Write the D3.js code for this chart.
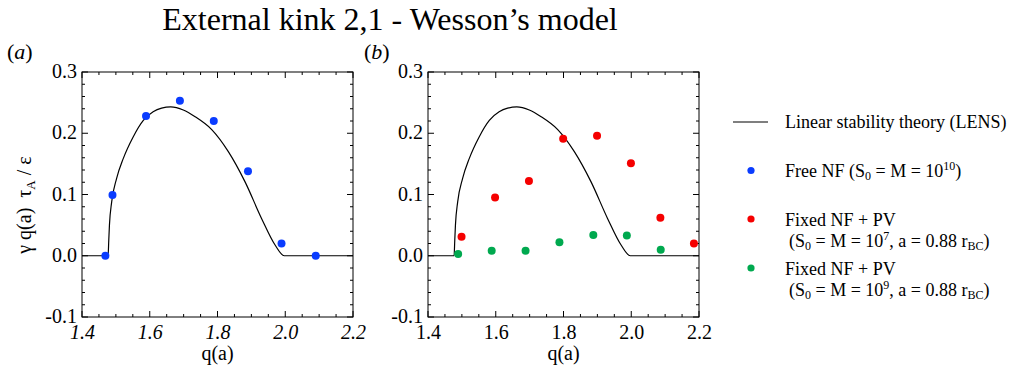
<!DOCTYPE html>
<html>
<head>
<meta charset="utf-8">
<script src="https://cdn.jsdelivr.net/npm/d3@7"></script>
<style>
  html, body { margin: 0; padding: 0; background: #fff; }
  svg { display: block; font-family: "Liberation Serif", "Times New Roman", serif; }
  text { white-space: pre; }
</style>
</head>
<body>
<svg id="chart" width="1013" height="371"></svg>
<script>
// ---------------- data ----------------
const xTicks = [1.4, 1.6, 1.8, 2.0, 2.2];
const xTickLabels = ["1.4", "1.6", "1.8", "2.0", "2.2"];
const yTicks = [-0.1, 0.0, 0.1, 0.2, 0.3];
const yTickLabels = ["-0.1", "0.0", "0.1", "0.2", "0.3"];

// Linear stability theory (LENS) curve
const lensQ = [1.40, 1.477, 1.479, 1.481, 1.4876, 1.502, 1.522, 1.551, 1.581, 1.610, 1.635, 1.662, 1.699, 1.734, 1.783, 1.832, 1.881, 1.930, 1.970, 1.997, 2.20];
const lensG = [0.0, 0.0, 0.025, 0.050, 0.088, 0.126, 0.159, 0.194, 0.221, 0.235, 0.241, 0.243, 0.238, 0.227, 0.206, 0.170, 0.121, 0.061, 0.0175, 0.0, 0.0];

// Free NF (S0 = M = 1e10)
const freeQ = [1.469, 1.490, 1.589, 1.689, 1.789, 1.890, 1.989, 2.090];
const freeG = [0.000, 0.099, 0.228, 0.253, 0.220, 0.138, 0.020, 0.000];

// Fixed NF + PV (S0 = M = 1e7)
const fixed7Q = [1.499, 1.598, 1.698, 1.799, 1.899, 1.999, 2.086, 2.185];
const fixed7G = [0.031, 0.095, 0.122, 0.191, 0.196, 0.151, 0.062, 0.020];

// Fixed NF + PV (S0 = M = 1e9)
const fixed9Q = [1.489, 1.588, 1.688, 1.788, 1.888, 1.987, 2.087];
const fixed9G = [0.003, 0.008, 0.008, 0.022, 0.034, 0.033, 0.010];

const colBlue = "#0a3cff", colRed = "#f50000", colGreen = "#00a94f";

// ---------------- layout ----------------
const svg = d3.select("#chart");
const W = 271, H = 245, plotTop = 72;
const panels = [
  { left: 82, italic: true, tag: "a", tagX: 7, series: [{ q: freeQ, g: freeG, c: colBlue }] },
  { left: 428, italic: false, tag: "b", tagX: 364, series: [{ q: fixed7Q, g: fixed7G, c: colRed }, { q: fixed9Q, g: fixed9G, c: colGreen }] }
];

const x = d3.scaleLinear().domain([1.4, 2.2]).range([0, W]);
const y = d3.scaleLinear().domain([-0.1, 0.3]).range([H, 0]);
const xMinor = d3.range(1.4, 2.2001, 0.05);
const yMinor = d3.range(-0.1, 0.3001, 0.02);

// title
svg.append("text").attr("x", 390).attr("y", 30).attr("text-anchor", "middle")
  .attr("font-size", 32).text("External kink 2,1 - Wesson\u2019s model");

panels.forEach(p => {
  const g = svg.append("g").attr("transform", `translate(${p.left},${plotTop})`);

  // panel tag (a)/(b)
  const t = svg.append("text").attr("x", p.tagX).attr("y", 59).attr("font-size", 22);
  t.append("tspan").text("(");
  t.append("tspan").attr("font-style", "italic").text(p.tag);
  t.append("tspan").text(")");

  // frame
  g.append("rect").attr("width", W).attr("height", H).attr("fill", "none")
    .attr("stroke", "#000").attr("stroke-width", 1);

  // minor + major ticks on all four sides (inward)
  const tk = g.append("g").attr("stroke", "#000").attr("stroke-width", 1);
  xMinor.forEach(v => {
    const isMajor = xTicks.some(m => Math.abs(m - v) < 1e-6);
    const L = isMajor ? 6 : 3;
    tk.append("line").attr("x1", x(v)).attr("x2", x(v)).attr("y1", H).attr("y2", H - L);
    tk.append("line").attr("x1", x(v)).attr("x2", x(v)).attr("y1", 0).attr("y2", L);
  });
  yMinor.forEach(v => {
    const isMajor = yTicks.some(m => Math.abs(m - v) < 1e-6);
    const L = isMajor ? 6 : 3;
    tk.append("line").attr("y1", y(v)).attr("y2", y(v)).attr("x1", 0).attr("x2", L);
    tk.append("line").attr("y1", y(v)).attr("y2", y(v)).attr("x1", W).attr("x2", W - L);
  });

  // axis labels using d3 axes
  const xa = g.append("g").attr("transform", `translate(0,${H})`)
    .call(d3.axisBottom(x).tickValues(xTicks).tickSize(0).tickPadding(7.5)
      .tickFormat((d, i) => xTickLabels[i]));
  xa.select(".domain").remove();
  xa.attr("font-family", null);
  xa.selectAll("text").attr("font-size", 20).attr("font-family", "Liberation Serif")
    .attr("fill", "#000").attr("font-style", p.italic ? "italic" : "normal");

  const ya = g.append("g")
    .call(d3.axisLeft(y).tickValues(yTicks).tickSize(0).tickPadding(5)
      .tickFormat((d, i) => yTickLabels[i]));
  ya.select(".domain").remove();
  ya.attr("font-family", null);
  ya.selectAll("text").attr("font-size", 20).attr("font-family", "Liberation Serif").attr("fill", "#000")
    .attr("dy", "0.28em");

  // x title
  g.append("text").attr("x", W / 2).attr("y", 288).attr("text-anchor", "middle")
    .attr("font-size", 20).text("q(a)");

  // LENS curve
  const pts = lensQ.map((q, i) => [q, lensG[i]]);
  g.append("path").datum(pts)
    .attr("d", d3.line().x(d => x(d[0])).y(d => y(d[1])).curve(d3.curveMonotoneX))
    .attr("fill", "none").attr("stroke", "#000").attr("stroke-width", 1.2);

  // dots
  p.series.forEach(s => {
    g.selectAll(null).data(s.q.map((q, i) => [q, s.g[i]])).enter().append("circle")
      .attr("cx", d => x(d[0])).attr("cy", d => y(d[1])).attr("r", 4).attr("fill", s.c);
  });
});

// y axis title
const yt = svg.append("text").attr("transform", "translate(31,205) rotate(-90)")
  .attr("text-anchor", "middle").attr("font-size", 20);
yt.append("tspan").text("\u03B3 q(a)  \u03C4");
yt.append("tspan").attr("font-size", 13).attr("dy", 4).text("A");
yt.append("tspan").attr("dy", -4).text(" / \u03B5");

// ---------------- legend ----------------
const lg = svg.append("g").attr("font-size", 18);
lg.append("line").attr("x1", 733).attr("x2", 768).attr("y1", 122).attr("y2", 122)
  .attr("stroke", "#000").attr("stroke-width", 1.2);
lg.append("text").attr("x", 785).attr("y", 128).text("Linear stability theory (LENS)");

lg.append("circle").attr("cx", 751).attr("cy", 170.5).attr("r", 3.6).attr("fill", colBlue);
const t1 = lg.append("text").attr("x", 785).attr("y", 176.5);
t1.append("tspan").text("Free NF (S");
t1.append("tspan").attr("font-size", 12).attr("dy", 3).text("0");
t1.append("tspan").attr("dy", -3).text(" = M = 10");
t1.append("tspan").attr("font-size", 12).attr("dy", -7).text("10");
t1.append("tspan").attr("dy", 7).text(")");

function fixedEntry(cy, exp, color) {
  lg.append("circle").attr("cx", 751).attr("cy", cy).attr("r", 3.6).attr("fill", color);
  lg.append("text").attr("x", 785).attr("y", cy + 6.5).text("Fixed NF + PV");
  const tt = lg.append("text").attr("x", 789).attr("y", cy + 28);
  tt.append("tspan").text("(S");
  tt.append("tspan").attr("font-size", 12).attr("dy", 3).text("0");
  tt.append("tspan").attr("dy", -3).text(" = M = 10");
  tt.append("tspan").attr("font-size", 12).attr("dy", -7).text(exp);
  tt.append("tspan").attr("dy", 7).text(", a = 0.88 r");
  tt.append("tspan").attr("font-size", 12).attr("dy", 3).text("BC");
  tt.append("tspan").attr("dy", -3).text(")");
}
fixedEntry(219, "7", colRed);
fixedEntry(268, "9", colGreen);
</script>
</body>
</html>
